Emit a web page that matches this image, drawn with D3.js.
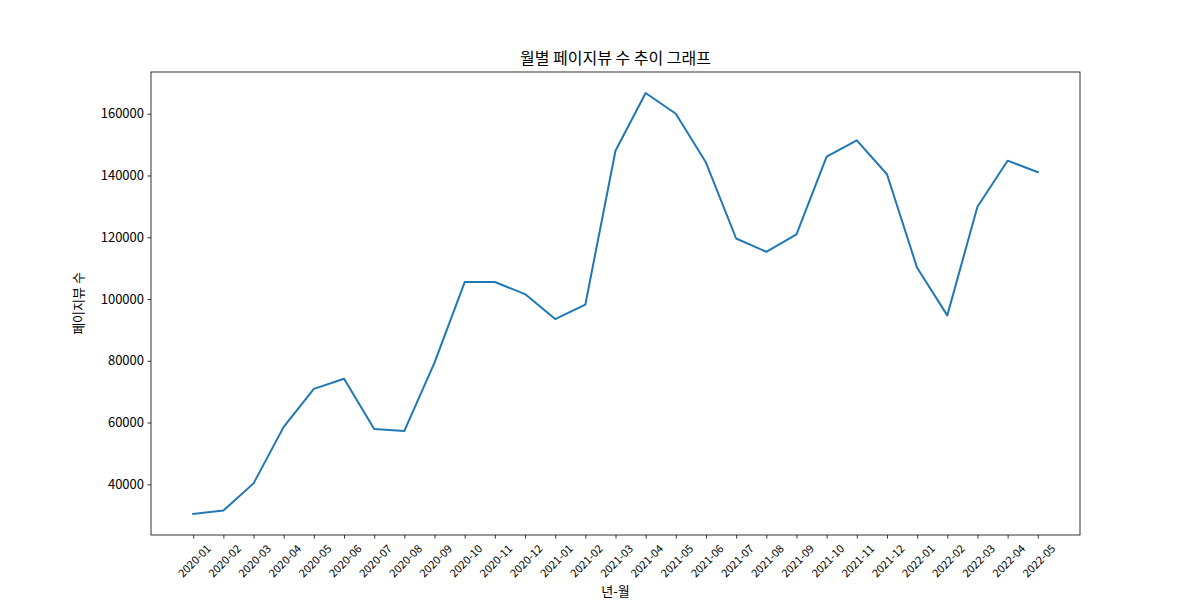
<!DOCTYPE html>
<html><head><meta charset="utf-8">
<script src="https://cdn.jsdelivr.net/npm/d3@7"></script>
<style>
body{margin:0;background:#fff;}
text{font-family:"Noto Sans CJK KR","Liberation Sans","DejaVu Sans",sans-serif;fill:#000;}
</style></head>
<body><svg id="c" width="1200" height="600"></svg>
<script>
const months = ["2020-01","2020-02","2020-03","2020-04","2020-05","2020-06","2020-07","2020-08","2020-09","2020-10","2020-11","2020-12",
"2021-01","2021-02","2021-03","2021-04","2021-05","2021-06","2021-07","2021-08","2021-09","2021-10","2021-11","2021-12",
"2022-01","2022-02","2022-03","2022-04","2022-05"];
const pageviews = [30400,31500,40300,58600,70900,74200,57900,57300,79400,105500,105500,101600,
93500,98200,148000,166700,160000,144200,119600,115300,120900,146100,151400,140400,
110100,94700,129900,144800,141100];
const yTicks = [40000,60000,80000,100000,120000,140000,160000];
const titleText = "월별 페이지뷰 수 추이 그래프";
const xLabel = "년-월";
const yLabel = "페이지뷰 수";

const svg = d3.select("#c");
const L=151, R=1080, T=72, B=535;
const n = months.length;
const x = d3.scaleLinear().domain([-(n-1)*0.05, (n-1)*1.05]).range([L,R]);
const ymin = d3.min(pageviews), ymax = d3.max(pageviews), pad=(ymax-ymin)*0.05;
const y = d3.scaleLinear().domain([ymin-pad, ymax+pad]).range([B,T]);

// y axis
const yAx = svg.append("g").attr("transform",`translate(${L},0)`)
  .call(d3.axisLeft(y).tickValues(yTicks).tickFormat(d3.format("d")).tickSizeOuter(0).tickSize(3.5).tickPadding(3.5));
yAx.select(".domain").remove();
yAx.selectAll("line").attr("stroke","#000").attr("stroke-width",0.8);
yAx.selectAll("text").attr("font-size","13px").style("fill","#000");

// x axis
const xAx = svg.append("g").attr("transform",`translate(0,${B})`)
  .call(d3.axisBottom(x).tickValues(d3.range(n)).tickFormat(i=>months[i]).tickSizeOuter(0).tickSize(3.5));
xAx.select(".domain").remove();
xAx.selectAll("line").attr("stroke","#000").attr("stroke-width",0.8);
xAx.selectAll("text").attr("font-size","11px").style("fill","#000")
  .attr("text-anchor","middle").attr("dy",null).attr("dominant-baseline","central")
  .each(function(){
    const t=d3.select(this);
    const w=this.getComputedTextLength(), h=11;
    const bh=(w+h)*Math.SQRT1_2;
    t.attr("y",null).attr("transform",`translate(0,${7+bh/2}) rotate(-45)`);
  });

// frame
svg.append("rect").attr("x",L).attr("y",T).attr("width",R-L).attr("height",B-T)
  .attr("fill","none").attr("stroke","#000").attr("stroke-width",0.8);

// line
svg.append("path").datum(pageviews)
  .attr("fill","none").attr("stroke","#1f77b4").attr("stroke-width",2)
  .attr("stroke-linejoin","round").attr("stroke-linecap","square")
  .attr("d", d3.line().x((d,i)=>x(i)).y(d=>y(d)));

// labels
svg.append("text").attr("x",(L+R)/2).attr("y",T-8).attr("text-anchor","middle")
  .attr("font-size","16px").text(titleText);
svg.append("text").attr("x",(L+R)/2).attr("y",596).attr("text-anchor","middle")
  .attr("font-size","13px").text(xLabel);
svg.append("text").attr("transform",`translate(83,${(T+B)/2}) rotate(-90)`).attr("text-anchor","middle")
  .attr("font-size","13px").text(yLabel);
</script></body></html>
